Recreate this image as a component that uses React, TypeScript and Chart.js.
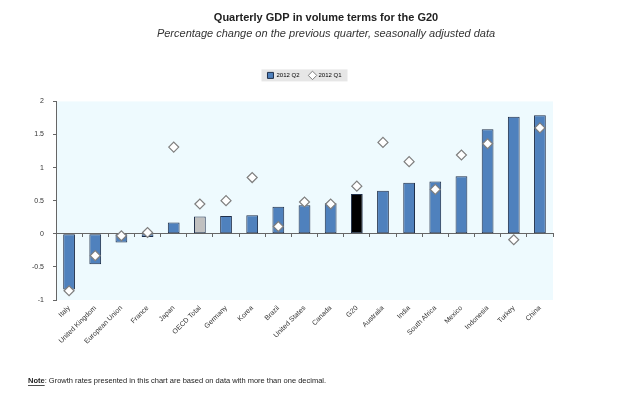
import React, { useEffect, useRef } from "react";
import { Chart, registerables } from "chart.js";

Chart.register(...registerables);

const categories = [
  "Italy", "United Kingdom", "European Union", "France", "Japan", "OECD Total",
  "Germany", "Korea", "Brazil", "United States", "Canada", "G20", "Australia",
  "India", "South Africa", "Mexico", "Indonesia", "Turkey", "China",
];
const q2Values = [
  -0.84, -0.46, -0.13, -0.05, 0.17, 0.26, 0.27, 0.28, 0.41, 0.43, 0.46, 0.6,
  0.65, 0.77, 0.79, 0.87, 1.58, 1.77, 1.79,
];
const q1Values = [
  -0.86, -0.33, -0.03, 0.02, 1.31, 0.45, 0.5, 0.85, 0.11, 0.48, 0.45, 0.72,
  1.38, 1.09, 0.67, 1.19, 1.36, -0.09, 1.6,
];
const seriesNames = ["2012 Q2", "2012 Q1"];
const yTicks = [-1, -0.5, 0, 0.5, 1, 1.5, 2];
const titleText = "Quarterly GDP in volume terms for the G20";
const subtitleText = "Percentage change on the previous quarter, seasonally adjusted data";
const noteLabel = "Note";
const noteText = ": Growth rates presented in this chart are based on data with more than one decimal.";

const FONT = "'Liberation Sans', Arial, sans-serif";

const barColor = (c: string) =>
  c === "OECD Total" ? "#c0c0c0" : c === "G20" ? "#000000" : "#4f81bd";

const bgPlugin = {
  id: "bgPlugin",
  beforeDraw(chart: any) {
    const { ctx, chartArea } = chart;
    ctx.save();
    ctx.fillStyle = "#eefafe";
    ctx.fillRect(chartArea.left, chartArea.top, chartArea.right - chartArea.left, chartArea.bottom - chartArea.top);
    const lg = chart.legend;
    if (lg && lg.legendHitBoxes && lg.legendHitBoxes.length) {
      const boxes = lg.legendHitBoxes;
      let l = Infinity, r = -Infinity, t = Infinity, b = -Infinity;
      boxes.forEach((h: any) => {
        l = Math.min(l, h.left); r = Math.max(r, h.left + h.width);
        t = Math.min(t, h.top); b = Math.max(b, h.top + h.height);
      });
      ctx.fillStyle = "#e6e6e6";
      ctx.fillRect(l - 6, t - 3, r - l + 12, b - t + 6);
    }
    ctx.restore();
  },
  afterDraw(chart: any) {
    const { ctx } = chart;
    ctx.save();
    ctx.fillStyle = "#222";
    ctx.font = `bold 7.5px ${FONT}`;
    ctx.textBaseline = "middle";
    const x0 = 28, y0 = 381;
    ctx.fillText(noteLabel, x0, y0);
    const w = ctx.measureText(noteLabel).width;
    ctx.fillRect(x0, y0 + 4, w, 0.8);
    ctx.font = `7.5px ${FONT}`;
    ctx.fillText(noteText, x0 + w, y0);
    ctx.restore();
  },
};

export default function App() {
  const ref = useRef<HTMLCanvasElement>(null);
  useEffect(() => {
    if (!ref.current) return;
    const chart = new Chart(ref.current, {
      type: "bar",
      data: {
        labels: categories,
        datasets: [
          {
            type: "line",
            label: seriesNames[1],
            data: q1Values,
            showLine: false,
            pointStyle: "rectRot",
            pointRadius: 5,
            backgroundColor: "#ffffff",
            borderColor: "#7f7f7f",
            borderWidth: 1.2,
            order: 1,
          } as any,
          {
            type: "bar",
            label: seriesNames[0],
            data: q2Values,
            backgroundColor: categories.map(barColor),
            borderColor: "#1f2f4a",
            borderWidth: 1,
            borderSkipped: false,
            barPercentage: 0.9,
            categoryPercentage: 0.5,
            pointStyle: "rect",
            order: 2,
          } as any,
        ],
      },
      options: {
        animation: false,
        responsive: false,
        layout: { padding: { left: 11, right: 0, top: 1, bottom: 0 } },
        plugins: {
          title: {
            display: true,
            text: titleText,
            color: "#222",
            font: { family: FONT, size: 11, weight: "bold" },
            padding: { top: 10, bottom: 3 },
          },
          subtitle: {
            display: true,
            text: subtitleText,
            color: "#333",
            font: { family: FONT, size: 11, style: "italic" },
            padding: { top: 0, bottom: 22 },
          },
          legend: {
            display: true,
            reverse: true,
            fullSize: false,
            labels: {
              usePointStyle: true,
              boxWidth: 6,
              boxHeight: 6,
              color: "#333",
              font: { family: FONT, size: 6 },
              padding: 10,
              generateLabels: (chart: any) => {
                const ds = chart.data.datasets;
                return ds.map((d: any, i: number) => ({
                  text: d.label,
                  fillStyle: i === 1 ? "#4f81bd" : "#ffffff",
                  strokeStyle: i === 1 ? "#1f2f4a" : "#7f7f7f",
                  lineWidth: 1,
                  pointStyle: i === 1 ? "rect" : "rectRot",
                  datasetIndex: i,
                  hidden: false,
                }));
              },
            },
          },
          tooltip: { enabled: false },
        },
        scales: {
          x: {
            type: "category",
            position: "bottom",
            grid: { display: false },
            border: { display: false },
            afterFit: (s: any) => { s.height = 100; },
            ticks: {
              minRotation: 45,
              maxRotation: 45,
              autoSkip: false,
              color: "#333",
              padding: -4,
              font: { family: FONT, size: 7 },
            },
          },
          xTop: {
            type: "category",
            labels: categories,
            position: "top",
            grid: { display: false },
            border: { display: false },
            ticks: { display: false },
            afterFit: (s: any) => { s.height = 13; },
          },
          x2: {
            type: "category",
            labels: categories,
            position: { y: 0 } as any,
            offset: true,
            grid: { display: true, drawOnChartArea: false, drawTicks: true, tickLength: 3, offset: true, color: "#666" },
            border: { display: true, color: "#666", width: 1 },
            ticks: { display: false },
          },
          y: {
            min: -1,
            max: 2,
            afterFit: (s: any) => { s.width = 45; },
            afterBuildTicks: (s: any) => { s.ticks = yTicks.map((v) => ({ value: v })); },
            grid: { display: true, drawOnChartArea: false, drawTicks: true, tickLength: 3, color: "#666" },
            border: { display: true, color: "#666", width: 1 },
            ticks: {
              color: "#333",
              padding: 9,
              font: { family: FONT, size: 7 },
              callback: (v: any) => String(v),
            },
          },
          yR: {
            type: "linear",
            position: "right",
            min: 0,
            max: 1,
            grid: { display: false },
            border: { display: false },
            ticks: { display: false },
            afterFit: (s: any) => { s.width = 88; },
          },
        },
      } as any,
      plugins: [bgPlugin],
    });
    return () => chart.destroy();
  }, []);
  return (
    <div style={{ position: "absolute", left: 0, top: 0, width: 641, height: 400, background: "#fff" }}>
      <canvas ref={ref} width={641} height={400} style={{ width: 641, height: 400 }} />
    </div>
  );
}
